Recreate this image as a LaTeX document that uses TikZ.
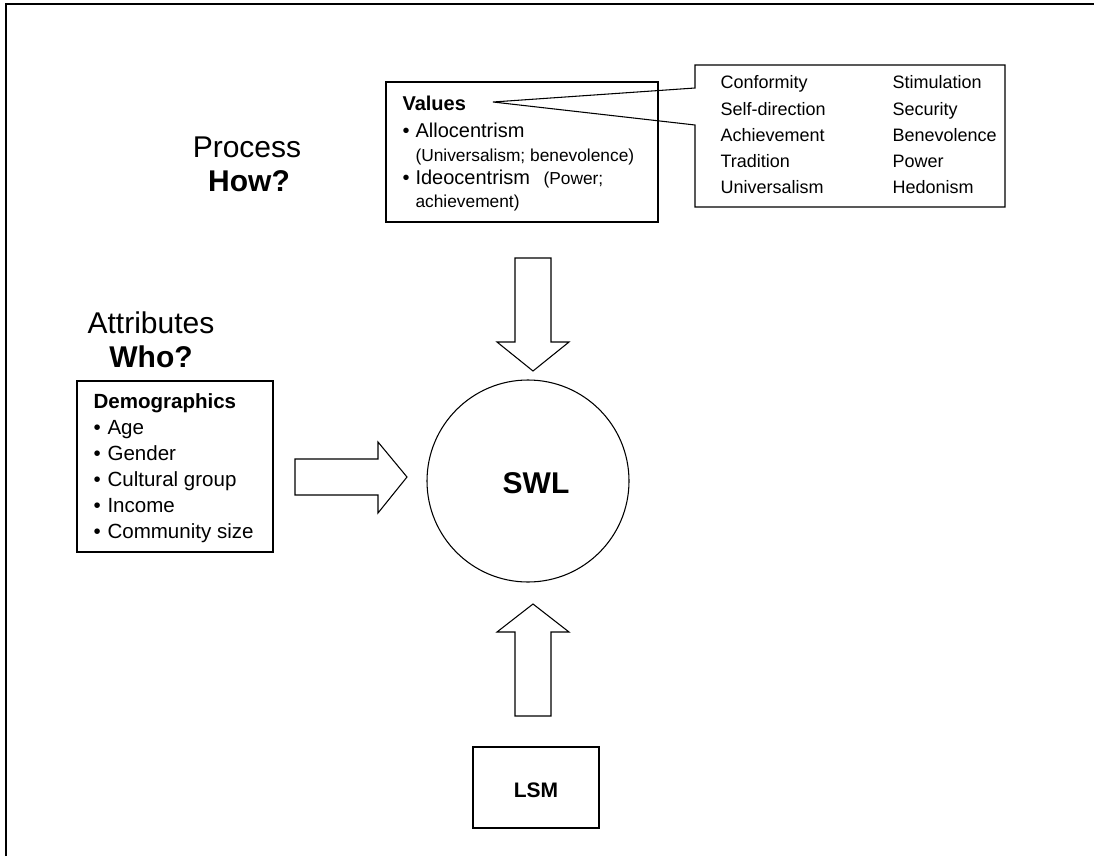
\documentclass[tikz,border=0pt]{standalone}
\usepackage{fontspec}
\setmainfont{Liberation Sans}
\begin{document}
\begin{tikzpicture}[x=0.75pt,y=-0.75pt,
  line width=0.8pt,
  txt/.style={inner sep=0pt,anchor=base west},
  ctxt/.style={inner sep=0pt,anchor=base},
  big/.style={font=\fontsize{22.5}{26}\selectfont},
  mid/.style={font=\fontsize{15}{18}\selectfont},
  small/.style={font=\fontsize{13}{16}\selectfont},
  lst/.style={font=\fontsize{13.5}{16}\selectfont},
  box/.style={draw,line width=0.8pt},
  blockarrow/.style={draw,line width=0.8pt,fill=white}]
\useasboundingbox (0,0) rectangle (1094,856);

% page frame (top and left edges)
\draw[line width=1.2pt] (6,856) -- (6,4) -- (1094,4);

% headings
\node[ctxt,big] (proc) at (247,157) {Process};
\node[ctxt,big] (how) at (249,191) {\textbf{How?}};
\node[ctxt,big] (attr) at (151,333) {Attributes};
\node[ctxt,big] (who) at (151,367) {\textbf{Who?}};

% values box
\draw[box] (386,82) rectangle (658,222);
\node[txt,mid] (vtitle) at (402,110) {\textbf{Values}};
\node[txt,mid] (b1) at (402,137) {•};
\node[txt,mid] (allo) at (415,137) {Allocentrism};
\node[txt,small] (allo2) at (415,161) {(Universalism; benevolence)};
\node[txt,mid] (b2) at (402,184) {•};
\node[txt,mid] (ideo) at (415,184) {Ideocentrism};
\node[txt,small] (ideo2) at (543,184) {(Power;};
\node[txt,small] (ideo3) at (415,207) {achievement)};

% callout listing the value types
\coordinate (tip) at (493,102);
\draw[box] (695,88) -- (695,65) -- (1005,65) -- (1005,207) -- (695,207) -- (695,125) -- (tip) -- cycle;
\foreach \name/\y [count=\i] in {Conformity/89,Self-direction/115,Achievement/141,Tradition/167,Universalism/193}
  \node[txt,lst] (ca\i) at (720,\y) {\name};
\foreach \name/\y [count=\i] in {Stimulation/89,Security/115,Benevolence/141,Power/167,Hedonism/193}
  \node[txt,lst] (cb\i) at (892,\y) {\name};

% demographics box
\draw[box] (77,381) rectangle (273,552);
\node[txt,font=\fontsize{15.4}{18}\selectfont] (dtitle) at (93,408) {\textbf{Demographics}};
\foreach \name/\y [count=\i] in {Age/434,Gender/460,Cultural group/486,Income/512,Community size/538}{
  \node[txt,font=\fontsize{15.4}{18}\selectfont] (db\i) at (93,\y) {•};
  \node[txt,font=\fontsize{15.4}{18}\selectfont] (d\i) at (107,\y) {\name};
}

% central construct
\draw (528,481) circle[radius=101];
\node[ctxt,big] (swl) at (536,493) {\textbf{SWL}};

% LSM box
\draw[box] (473,747) rectangle (599,828);
\node[ctxt,font=\fontsize{15.75}{18}\selectfont] (lsm) at (536,797) {\textbf{LSM}};

% block arrows
\draw[blockarrow] (295,459) -- (378,459) -- (378,442) -- (407,477) -- (378,513) -- (378,495) -- (295,495) -- cycle;
\draw[blockarrow] (515,258) -- (551,258) -- (551,342) -- (569,342) -- (533,371) -- (497,342) -- (515,342) -- cycle;
\draw[blockarrow] (515,716) -- (551,716) -- (551,632) -- (569,632) -- (533,604) -- (497,632) -- (515,632) -- cycle;
\end{tikzpicture}
\end{document}
